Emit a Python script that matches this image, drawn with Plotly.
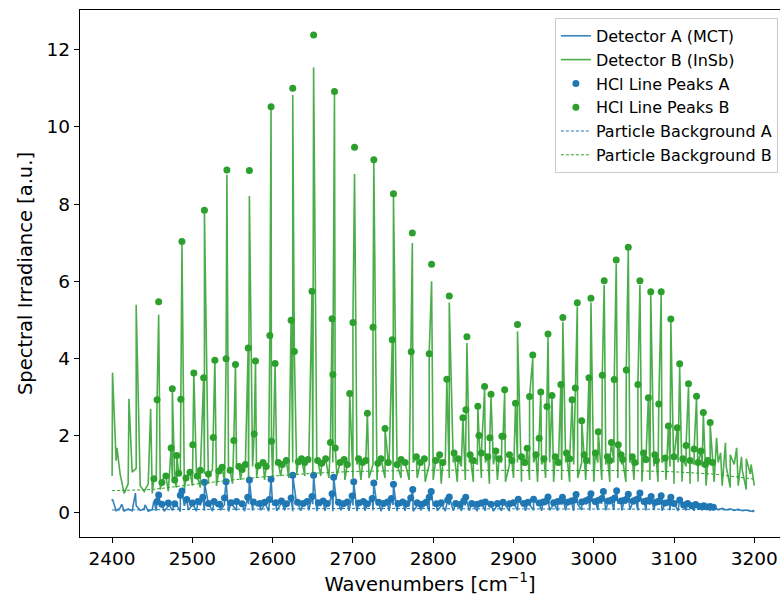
import plotly.graph_objects as go

# ---------------- data ----------------
grid_start = 2400
grid_step = 5

# Detector B (InSb) noisy baseline, one value every 5 cm-1 from 2400 to 3200
baseB = [0.95, 1.35, 1.0, 0.5, 0.75, 1.05, 1.15, 0.7, 0.55, 0.75,
         0.5, 0.85, 0.6, 0.95, 0.55, 0.9, 0.65, 1.0, 0.6, 0.95,
         0.7, 1.05, 0.65, 1.0, 0.75, 1.1, 0.7, 1.05, 0.8, 1.15,
         0.75, 1.15, 0.85, 1.2, 0.8, 1.2, 0.9, 1.25, 0.85, 1.3,
         0.9, 1.3, 0.95, 1.35, 0.9, 1.3, 1.0, 1.35, 0.95, 1.3,
         1.0, 1.35, 0.95, 1.3, 0.9, 1.3, 0.95, 1.25, 0.85, 1.3,
         0.9, 1.25, 0.85, 1.3, 0.9, 1.25, 0.85, 1.3, 0.9, 1.25,
         0.85, 1.3, 0.9, 1.25, 0.85, 1.3, 0.9, 1.3, 0.8, 1.25,
         0.85, 1.3, 0.75, 1.25, 0.9, 1.3, 0.8, 1.2, 0.85, 1.3,
         0.8, 1.25, 0.9, 1.3, 0.75, 1.25, 0.85, 1.3, 0.8, 1.25,
         0.9, 1.3, 0.8, 1.25, 0.85, 1.3, 0.8, 1.25, 0.9, 1.3,
         0.8, 1.25, 0.85, 1.3, 0.8, 1.25, 0.9, 1.3, 0.85, 1.25,
         0.8, 1.3, 0.85, 1.25, 0.8, 1.3, 0.9, 1.25, 0.8, 1.3,
         0.85, 1.25, 0.8, 1.3, 0.85, 1.2, 0.8, 1.3, 0.85, 1.2,
         0.75, 1.3, 0.8, 1.2, 0.75, 1.25, 0.8, 1.2, 0.7, 1.25,
         0.8, 1.3, 0.7, 1.2, 0.65, 1.25, 0.7, 1.1, 0.6, 1.0,
         0.7]

# Detector A (MCT) noisy baseline, same sampling
baseA = [0.3, 0.05, 0.12, 0.04, 0.1, 0.05, 0.18, 0.06, 0.1, 0.04, 0.08, 0.05,
         0.2, 0.04, 0.17, 0.06, 0.22, 0.03, 0.18, 0.07, 0.2, 0.04,
         0.19, 0.05, 0.22, 0.04, 0.17, 0.06, 0.21, 0.03, 0.19, 0.06,
         0.2, 0.04, 0.22, 0.05, 0.18, 0.06, 0.21, 0.04, 0.2, 0.05,
         0.22, 0.06, 0.19, 0.04, 0.21, 0.05, 0.2, 0.06, 0.22, 0.04,
         0.19, 0.05, 0.21, 0.04, 0.2, 0.06, 0.22, 0.05, 0.19, 0.04,
         0.21, 0.05, 0.2, 0.06, 0.19, 0.04, 0.21, 0.05, 0.2, 0.04,
         0.19, 0.05, 0.21, 0.04, 0.18, 0.06, 0.2, 0.04, 0.19, 0.05,
         0.18, 0.04, 0.2, 0.05, 0.17, 0.04, 0.19, 0.05, 0.18, 0.04,
         0.19, 0.05, 0.18, 0.04, 0.2, 0.05, 0.19, 0.04, 0.2, 0.06,
         0.21, 0.05, 0.2, 0.06, 0.22, 0.05, 0.2, 0.06, 0.22, 0.05,
         0.21, 0.06, 0.23, 0.05, 0.22, 0.07, 0.23, 0.06, 0.22, 0.07,
         0.24, 0.06, 0.22, 0.07, 0.24, 0.06, 0.23, 0.07, 0.22, 0.06,
         0.23, 0.06, 0.21, 0.07, 0.22, 0.05, 0.2, 0.06, 0.19, 0.05,
         0.18, 0.06, 0.17, 0.05, 0.16, 0.06, 0.15, 0.05,
         0.12, 0.08, 0.11, 0.07, 0.1, 0.06, 0.09, 0.05, 0.07, 0.04, 0.03]

# main HCl lines, detector B: wavenumber, marker height, line-top height
majB_wn = [2458, 2487, 2515, 2543, 2571, 2598, 2625, 2651, 2677, 2702, 2726, 2750.5,
           2774, 2798, 2820, 2842, 2864, 2872, 2889, 2905, 2924, 2943, 2961.5, 2979.5,
           2996.5, 3013, 3028, 3043, 3057.5, 3071, 3084, 3096, 3107, 3118, 3128, 3136.5, 3145]
majB_dot = [5.47, 7.03, 7.84, 8.88, 8.87, 10.52, 11.0, 12.38, 10.92, 9.47, 9.15, 8.27,
            7.25, 6.44, 5.62, 4.56, 3.27, 3.07, 3.19, 4.88, 4.09, 4.63, 5.06, 5.44,
            5.56, 6.01, 6.55, 6.88, 6.01, 5.73, 5.73, 5.02, 3.86, 3.34, 3.02, 2.60, 2.34]
majB_line = [5.13, 6.95, 7.8, 8.76, 8.21, 10.45, 10.83, 11.54, 10.87, 8.78, 9.1, 8.2,
             6.99, 6.0, 5.45, 4.4, 3.2, 3.0, 3.1, 4.7, 4.0, 4.55, 4.95, 5.35,
             5.45, 5.9, 6.45, 6.8, 5.9, 5.65, 5.65, 4.95, 3.8, 3.25, 2.95, 2.55, 2.3]

# secondary lines, detector B
minB_wn = [2456, 2473.5, 2475, 2480.6, 2485.6, 2500.5, 2501.8, 2514, 2526, 2528,
           2542, 2551.6, 2553.7, 2569.5, 2577, 2578.6, 2596.5, 2598.5, 2603, 2623,
           2627, 2649, 2672, 2674, 2675, 2678, 2696, 2700, 2718, 2725,
           2740, 2749, 2772.6, 2795, 2817, 2837, 2840.7, 2855.6, 2857, 2870.5,
           2885.6, 2887, 2902.5, 2917, 2920, 2932, 2934, 2941.7, 2948, 2959,
           2973, 2977, 2985, 2994, 3005.6, 3010.6, 3022, 3025.5, 3030.5, 3040.5,
           3055, 3068, 3081, 3093, 3104, 3115, 3125, 3133.6, 3142]
minB_val = [2.93, 1.68, 3.21, 1.48, 2.94, 1.76, 3.62, 3.5, 1.95, 3.95,
            3.99, 1.87, 3.84, 4.27, 2.04, 3.93, 4.59, 1.85, 3.87, 4.99,
            4.18, 5.74, 1.82, 5.03, 3.58, 1.68, 3.09, 4.93, 2.58, 4.81,
            2.18, 4.48, 4.17, 4.12, 3.46, 2.46, 2.67, 2.76, 2.0, 1.94,
            1.98, 1.98, 2.84, 1.67, 3.01, 1.93, 3.13, 2.75, 3.04, 3.32,
            2.93, 3.23, 2.38, 3.5, 2.1, 3.56, 1.82, 3.45, 1.76, 3.7,
            3.32, 2.98, 2.82, 2.25, 2.2, 1.74, 1.65, 1.6, 1.35]

# small peaks inside the noise band, detector B
bandB_wn = [2452, 2462, 2467, 2478, 2483, 2492, 2497, 2506, 2510, 2520,
            2533, 2537, 2547, 2558, 2562, 2566, 2582, 2588, 2592, 2607,
            2612, 2617, 2632, 2636, 2640, 2644, 2656, 2661, 2666, 2684,
            2689, 2693, 2707, 2712, 2716, 2731, 2735, 2744, 2755, 2760,
            2765, 2779, 2784, 2789, 2803, 2808, 2812, 2826, 2831, 2846,
            2850, 2860, 2868, 2878, 2882, 2895, 2898, 2910, 2914, 2928,
            2938, 2952, 2956, 2966, 2970, 2988, 2991, 3002, 3017, 3020,
            3034, 3036, 3048, 3051, 3062, 3065, 3076, 3078, 3089, 3100,
            3111, 3120, 3130, 3139, 3148]
bandB_val = [0.88, 0.78, 0.95, 0.85, 1.02, 0.9, 1.05, 0.95, 1.1, 1.0,
             1.08, 1.18, 1.1, 1.2, 1.12, 1.25, 1.22, 1.3, 1.2, 1.3,
             1.25, 1.35, 1.32, 1.4, 1.3, 1.38, 1.35, 1.28, 1.4, 1.3,
             1.38, 1.25, 1.4, 1.3, 1.35, 1.28, 1.4, 1.3, 1.25, 1.38,
             1.3, 1.45, 1.3, 1.4, 1.35, 1.5, 1.3, 1.55, 1.4, 1.5,
             1.35, 1.55, 1.45, 1.6, 1.4, 1.5, 1.35, 1.45, 1.3, 1.5,
             1.4, 1.45, 1.3, 1.55, 1.4, 1.5, 1.35, 1.55, 1.45, 1.35,
             1.5, 1.38, 1.45, 1.3, 1.55, 1.38, 1.5, 1.35, 1.42, 1.45,
             1.4, 1.35, 1.3, 1.25, 1.3]

# spikes of the detector B trace that carry no marker
exB_wn = [2400.5, 2406, 2421, 2430, 2448, 3153, 3158, 3164, 3170, 3178, 3184, 3190, 3196]
exB_val = [3.63, 1.68, 2.95, 5.39, 2.69, 1.94, 1.55, 1.81, 1.5, 1.68, 1.45, 1.4, 1.25]

# main HCl lines, detector A
majA_wn = [2458, 2487, 2515, 2542, 2571, 2598, 2625, 2651, 2676, 2701, 2726, 2750.5,
           2774.5, 2797.5, 2820, 2840.5, 2865, 2887, 2906, 2925, 2943, 2961, 2978, 2996.5,
           3012, 3028.5, 3043, 3057.5, 3071.5, 3084, 3096, 3107, 3117, 3127, 3137, 3145]
majA_val = [0.46, 0.56, 0.79, 0.8, 0.85, 0.87, 0.97, 0.97, 0.92, 0.8, 0.77, 0.74,
            0.6, 0.55, 0.41, 0.4, 0.28, 0.27, 0.35, 0.35, 0.41, 0.4, 0.47, 0.49,
            0.55, 0.57, 0.48, 0.51, 0.42, 0.44, 0.4, 0.33, 0.24, 0.21, 0.18, 0.16]

minA_wn = [2456, 2485, 2513, 2540, 2569, 2596, 2623, 2649, 2674, 2699,
           2724, 2748, 2772, 2795, 2818, 2838, 2941, 2959, 2976, 2994,
           3010, 3026, 3041, 3055, 3069, 3082, 3094]
minA_val = [0.29, 0.45, 0.4, 0.38, 0.4, 0.34, 0.38, 0.42, 0.49, 0.43,
            0.37, 0.37, 0.38, 0.4, 0.33, 0.3, 0.3, 0.3, 0.33, 0.35,
            0.37, 0.38, 0.35, 0.36, 0.3, 0.3, 0.28]

bandA_wn = [2462, 2470, 2478, 2493, 2500, 2507, 2520, 2527, 2534, 2548,
            2555, 2562, 2576, 2584, 2590, 2604, 2611, 2617, 2631, 2638,
            2643, 2657, 2663, 2668, 2682, 2688, 2693, 2707, 2713, 2718,
            2732, 2738, 2743, 2756, 2762, 2767, 2780, 2786, 2791, 2804,
            2810, 2828, 2833, 2848, 2855, 2860, 2872, 2880, 2895, 2900,
            2913, 2918, 2932, 2937, 2950, 2955, 2967, 2972, 2985, 2990,
            3002, 3006, 3018, 3022, 3034, 3038, 3049, 3052, 3063, 3066,
            3077, 3080, 3089, 3100, 3112, 3122, 3132, 3141, 3149]
bandA_val = [0.22, 0.25, 0.23, 0.34, 0.25, 0.29, 0.24, 0.29, 0.22, 0.26,
             0.29, 0.23, 0.28, 0.24, 0.27, 0.26, 0.3, 0.23, 0.27, 0.24,
             0.29, 0.26, 0.3, 0.24, 0.27, 0.23, 0.28, 0.25, 0.29, 0.23,
             0.27, 0.24, 0.28, 0.24, 0.28, 0.23, 0.26, 0.22, 0.27, 0.23,
             0.26, 0.24, 0.21, 0.24, 0.22, 0.25, 0.22, 0.24, 0.23, 0.26,
             0.24, 0.27, 0.25, 0.28, 0.26, 0.29, 0.27, 0.3, 0.28, 0.31,
             0.29, 0.32, 0.3, 0.33, 0.3, 0.32, 0.3, 0.33, 0.29, 0.31,
             0.27, 0.29, 0.25, 0.24, 0.2, 0.18, 0.16, 0.15, 0.14]

exA_wn = [2400.5, 2412, 2429, 2441, 2452]
exA_val = [0.35, 0.22, 0.51, 0.2, 0.3]

# particle background
bg_wn = [2400, 2450, 2500, 2550, 2600, 2650, 2700, 2750, 2800, 2850,
         2900, 2950, 3000, 3050, 3100, 3150, 3200]
bgB = [0.57, 0.6, 0.73, 0.85, 0.95, 1.02, 1.07, 1.09, 1.1, 1.1,
       1.1, 1.1, 1.1, 1.09, 1.06, 1.0, 0.87]
bgA = [0.07, 0.08, 0.09, 0.1, 0.1, 0.11, 0.11, 0.11, 0.1, 0.1,
       0.1, 0.1, 0.1, 0.1, 0.09, 0.08, 0.06]

x_ticks = [2400, 2500, 2600, 2700, 2800, 2900, 3000, 3100, 3200]
y_ticks = [0, 2, 4, 6, 8, 10, 12]

BLUE = "#1f77b4"
GREEN = "#2ca02c"
FONT = "DejaVu Sans"


def build_line(base, spike_groups):
    grid = [grid_start + grid_step * i for i in range(len(base))]
    pts = list(zip(grid, base))
    for xs, ys in spike_groups:
        pts += list(zip(xs, ys))
    pts.sort(key=lambda p: p[0])
    return [p[0] for p in pts], [p[1] for p in pts]


lineA_x, lineA_y = build_line(baseA, [(majA_wn, majA_val), (minA_wn, minA_val),
                                      (bandA_wn, bandA_val), (exA_wn, exA_val)])
lineB_x, lineB_y = build_line(baseB, [(majB_wn, majB_line), (minB_wn, minB_val),
                                      (bandB_wn, bandB_val), (exB_wn, exB_val)])

dotsA_x = majA_wn + minA_wn + bandA_wn
dotsA_y = majA_val + minA_val + bandA_val
dotsB_x = majB_wn + minB_wn + bandB_wn
dotsB_y = majB_dot + minB_val + bandB_val

fig = go.Figure()
fig.add_trace(go.Scatter(x=lineA_x, y=lineA_y, mode="lines", name="Detector A (MCT)",
                         line=dict(color=BLUE, width=1.6), opacity=0.9))
fig.add_trace(go.Scatter(x=lineB_x, y=lineB_y, mode="lines", name="Detector B (InSb)",
                         line=dict(color=GREEN, width=1.6), opacity=0.85))
fig.add_trace(go.Scatter(x=dotsA_x, y=dotsA_y, mode="markers", name="HCl Line Peaks A",
                         marker=dict(color=BLUE, size=7)))
fig.add_trace(go.Scatter(x=dotsB_x, y=dotsB_y, mode="markers", name="HCl Line Peaks B",
                         marker=dict(color=GREEN, size=7)))
fig.add_trace(go.Scatter(x=bg_wn, y=bgA, mode="lines", name="Particle Background A",
                         line=dict(color=BLUE, width=1, dash="3px,2px")))
fig.add_trace(go.Scatter(x=bg_wn, y=bgB, mode="lines", name="Particle Background B",
                         line=dict(color=GREEN, width=1, dash="3px,2px")))

fig.update_layout(
    width=782, height=601,
    margin=dict(l=80, r=2, t=10, b=64),
    paper_bgcolor="white", plot_bgcolor="white",
    font=dict(family=FONT, color="black"),
    showlegend=True,
    legend=dict(x=0.997, xanchor="right", y=0.985, yanchor="top",
                bgcolor="rgba(255,255,255,0.85)", bordercolor="#cccccc", borderwidth=1,
                font=dict(family=FONT, size=16, color="black")),
)
fig.update_xaxes(range=[2360, 3232], tickvals=x_ticks, ticktext=[str(v) for v in x_ticks],
                 showline=True, linecolor="black", linewidth=1.3, mirror=True,
                 ticks="outside", ticklen=5, tickcolor="black", showgrid=False, zeroline=False,
                 tickfont=dict(family=FONT, size=18.5),
                 title=dict(text="Wavenumbers [cm<sup>−1</sup>]", font=dict(family=FONT, size=19.5),
                            standoff=8))
fig.update_yaxes(range=[-0.63, 13.03], tickvals=y_ticks, ticktext=[str(v) for v in y_ticks],
                 showline=True, linecolor="black", linewidth=1.3, mirror=False,
                 ticks="outside", ticklen=5, tickcolor="black", showgrid=False, zeroline=False,
                 tickfont=dict(family=FONT, size=18.5),
                 title=dict(text="Spectral Irradiance [a.u.]", font=dict(family=FONT, size=19.5),
                            standoff=8))

fig.write_html("out.html")
